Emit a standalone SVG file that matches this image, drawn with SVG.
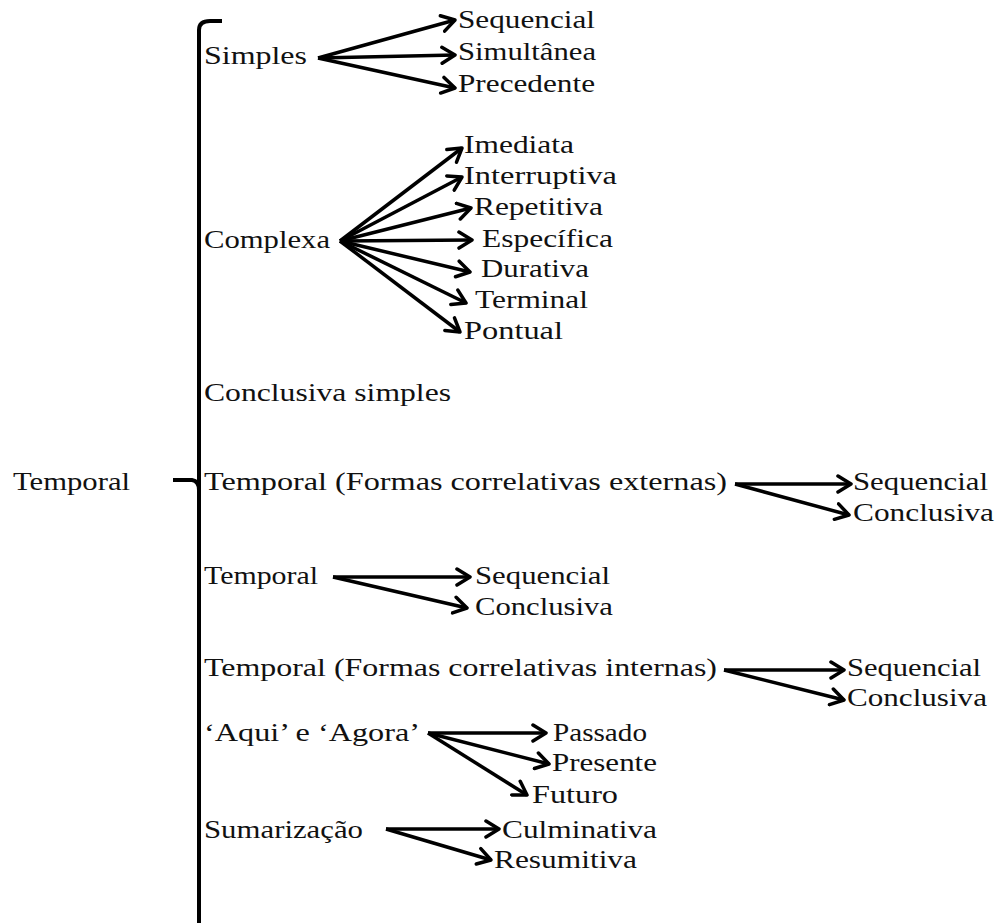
<svg xmlns="http://www.w3.org/2000/svg" width="1002" height="923" viewBox="0 0 1002 923">
<style>
text{font-family:"Liberation Serif","Times New Roman",serif;font-size:25px;fill:#111}
.ar{stroke:#000;stroke-width:3.5;fill:none;marker-end:url(#ah)}
.br{stroke:#000;stroke-width:4;fill:none}
</style>
<defs>
<marker id="ah" markerUnits="userSpaceOnUse" markerWidth="18" markerHeight="20" refX="15" refY="10" orient="auto" viewBox="0 0 18 20">
<path d="M2,2 L15,10 L2,18" stroke="#000" stroke-width="3.5" fill="none" stroke-linecap="round" stroke-linejoin="round"/>
</marker>
</defs>
<rect width="1002" height="923" fill="#fff"/>
<g id="bracket">
<path class="br" d="M199,923 L199,30 Q199,21 210,21 L222,21"/>
<path class="br" d="M173,480 L192,480 Q199,481 199,490"/>
</g>
<g id="root"><text x="13" y="490" textLength="117" lengthAdjust="spacingAndGlyphs">Temporal</text></g>
<g id="simples"><text x="204" y="64" textLength="103" lengthAdjust="spacingAndGlyphs">Simples</text></g>
<g id="simples-sequencial"><text x="458" y="28" textLength="137" lengthAdjust="spacingAndGlyphs">Sequencial</text></g>
<g id="simples-simultanea"><text x="458" y="60" textLength="138" lengthAdjust="spacingAndGlyphs">Simultânea</text></g>
<g id="simples-precedente"><text x="458" y="92" textLength="137" lengthAdjust="spacingAndGlyphs">Precedente</text></g>
<g id="complexa"><text x="204" y="248" textLength="126" lengthAdjust="spacingAndGlyphs">Complexa</text></g>
<g id="imediata"><text x="464" y="153" textLength="110" lengthAdjust="spacingAndGlyphs">Imediata</text></g>
<g id="interruptiva"><text x="464" y="184" textLength="153" lengthAdjust="spacingAndGlyphs">Interruptiva</text></g>
<g id="repetitiva"><text x="474" y="215" textLength="129" lengthAdjust="spacingAndGlyphs">Repetitiva</text></g>
<g id="especifica"><text x="482" y="247" textLength="131" lengthAdjust="spacingAndGlyphs">Específica</text></g>
<g id="durativa"><text x="481" y="277" textLength="108" lengthAdjust="spacingAndGlyphs">Durativa</text></g>
<g id="terminal"><text x="475" y="308" textLength="113" lengthAdjust="spacingAndGlyphs">Terminal</text></g>
<g id="pontual"><text x="464" y="339" textLength="99" lengthAdjust="spacingAndGlyphs">Pontual</text></g>
<g id="conclusiva-simples"><text x="204" y="401" textLength="247" lengthAdjust="spacingAndGlyphs">Conclusiva  simples</text></g>
<g id="temporal-externas"><text x="204" y="490" textLength="523" lengthAdjust="spacingAndGlyphs">Temporal (Formas correlativas externas)</text></g>
<g id="ext-sequencial"><text x="853" y="490" textLength="135" lengthAdjust="spacingAndGlyphs">Sequencial</text></g>
<g id="ext-conclusiva"><text x="853" y="521" textLength="141" lengthAdjust="spacingAndGlyphs">Conclusiva</text></g>
<g id="temporal"><text x="204" y="584" textLength="114" lengthAdjust="spacingAndGlyphs">Temporal</text></g>
<g id="mid-sequencial"><text x="475" y="584" textLength="135" lengthAdjust="spacingAndGlyphs">Sequencial</text></g>
<g id="mid-conclusiva"><text x="475" y="615" textLength="138" lengthAdjust="spacingAndGlyphs">Conclusiva</text></g>
<g id="temporal-internas"><text x="204" y="676" textLength="513" lengthAdjust="spacingAndGlyphs">Temporal (Formas correlativas internas)</text></g>
<g id="int-sequencial"><text x="847" y="676" textLength="134" lengthAdjust="spacingAndGlyphs">Sequencial</text></g>
<g id="int-conclusiva"><text x="847" y="706" textLength="140" lengthAdjust="spacingAndGlyphs">Conclusiva</text></g>
<g id="aqui-agora"><text x="204" y="741" textLength="216" lengthAdjust="spacingAndGlyphs">‘Aqui’ e ‘Agora’</text></g>
<g id="passado"><text x="553" y="741" textLength="94" lengthAdjust="spacingAndGlyphs">Passado</text></g>
<g id="presente"><text x="552" y="771" textLength="105" lengthAdjust="spacingAndGlyphs">Presente</text></g>
<g id="futuro"><text x="532" y="803" textLength="86" lengthAdjust="spacingAndGlyphs">Futuro</text></g>
<g id="sumarizacao"><text x="204" y="838" textLength="159" lengthAdjust="spacingAndGlyphs">Sumarização</text></g>
<g id="culminativa"><text x="502" y="838" textLength="155" lengthAdjust="spacingAndGlyphs">Culminativa</text></g>
<g id="resumitiva"><text x="494" y="868" textLength="143" lengthAdjust="spacingAndGlyphs">Resumitiva</text></g>
<g id="connectors">
<path class="ar" d="M318,58 L455,20"/>
<path class="ar" d="M318,58 L455,55"/>
<path class="ar" d="M318,58 L455,88"/>
<path class="ar" d="M340,241 L462,148"/>
<path class="ar" d="M340,241 L462,177"/>
<path class="ar" d="M340,241 L471,208"/>
<path class="ar" d="M340,241 L472,240"/>
<path class="ar" d="M340,241 L470,272"/>
<path class="ar" d="M340,241 L466,303"/>
<path class="ar" d="M340,241 L460,332"/>
<path class="ar" d="M735,484 L851,484"/>
<path class="ar" d="M735,484 L849,515"/>
<path class="ar" d="M333,577 L470,577"/>
<path class="ar" d="M333,577 L467,608"/>
<path class="ar" d="M724,670 L844,670"/>
<path class="ar" d="M724,670 L844,700"/>
<path class="ar" d="M428,733 L546,733"/>
<path class="ar" d="M428,733 L549,764"/>
<path class="ar" d="M428,733 L527,795"/>
<path class="ar" d="M386,829 L499,829"/>
<path class="ar" d="M386,829 L491,860"/>
</g>
</svg>
